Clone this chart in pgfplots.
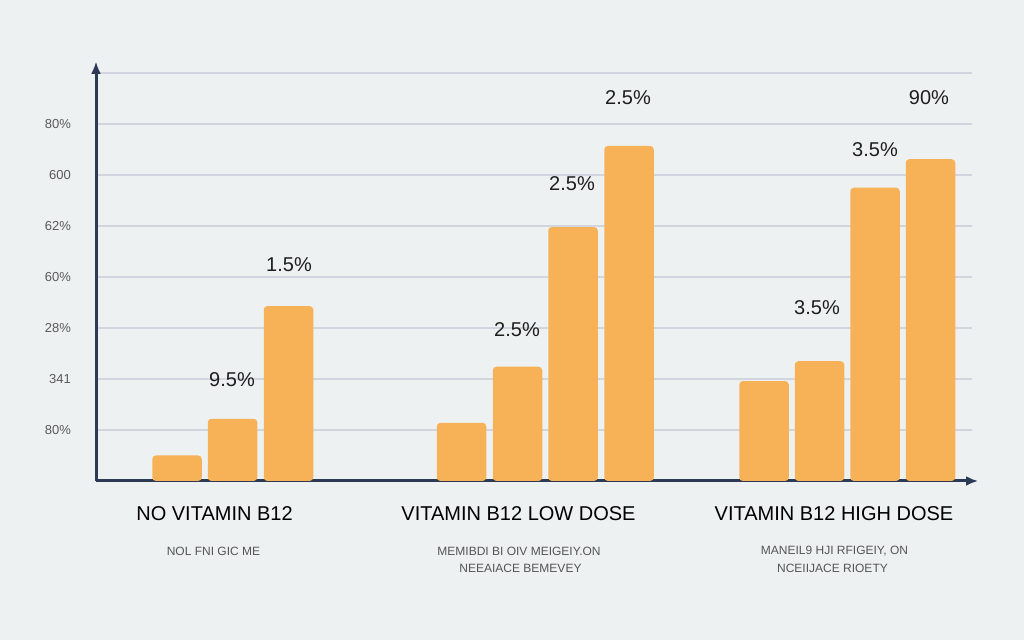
\documentclass[border=0pt]{standalone}
\usepackage{pgfplots}
\pgfplotsset{compat=1.18}
\usepackage{fontspec}
\setmainfont{Liberation Sans}
\usetikzlibrary{arrows.meta}
\definecolor{bgcol}{HTML}{EDF1F2}
\definecolor{barcol}{HTML}{F7B257}
\definecolor{gridcol}{HTML}{D3D5DE}
\definecolor{axiscol}{HTML}{2C3A55}
\definecolor{tickcol}{HTML}{5A5A5A}
\definecolor{valcol}{HTML}{1E1E1E}
\definecolor{subcol}{HTML}{555555}
\begin{document}
\begin{tikzpicture}
\fill[bgcol] (0,0) rectangle (512pt,320pt);
\path[use as bounding box] (0,0) rectangle (512pt,320pt);
\begin{axis}[
  at={(48pt,79.5pt)}, anchor=south west,
  x=0.5pt, y=25.5pt,
  xmin=96, xmax=972, ymin=0, ymax=8.22,
  axis x line=bottom, axis y line=left,
  axis line style={line width=1.5pt, color=axiscol, -{Latex[length=6pt,width=5pt]}},
  x axis line style={shorten >=-3pt},
  xtick=\empty,
  ytick={1,2,3,4,5,6,7,8},
  yticklabels={80\%,341,28\%,60\%,62\%,600,80\%,},
  major tick length=0pt,
  yticklabel style={font=\fontsize{6.5}{7}\selectfont, text=tickcol, anchor=east, xshift=-9pt},
  ymajorgrids=true,
  grid style={gridcol, line width=0.75pt},
  clip=false,
]
\addplot[ybar, bar width=49.5, bar shift=0pt, fill=barcol, draw=none, rounded corners=1.8pt]
coordinates {
  (177,0.50) (232.5,1.22) (288.5,3.43)
  (461.5,1.14) (517.5,2.24) (573,4.98) (629,6.57)
  (764,1.96) (819.5,2.35) (875,5.75) (930.5,6.31)
};
\begin{scope}[every node/.style={font=\fontsize{10}{12}\selectfont, text=valcol}]
\node at (axis cs:232,1.98) {9.5\%};
\node at (axis cs:289,4.24) {1.5\%};
\node at (axis cs:517,2.96) {2.5\%};
\node at (axis cs:572,5.84) {2.5\%};
\node at (axis cs:628,7.51) {2.5\%};
\node at (axis cs:817,3.39) {3.5\%};
\node at (axis cs:875,6.49) {3.5\%};
\node at (axis cs:929,7.51) {90\%};
\end{scope}
\begin{scope}[every node/.style={font=\fontsize{10}{12}\selectfont, text=black}]
\node at (axis cs:214.5,-0.64) {NO VITAMIN B12};
\node at (axis cs:518.5,-0.64) {VITAMIN B12 LOW DOSE};
\node at (axis cs:834,-0.64) {VITAMIN B12 HIGH DOSE};
\end{scope}
\begin{scope}[every node/.style={font=\fontsize{6}{7}\selectfont, text=subcol}]
\node at (axis cs:213.5,-1.38) {NOL FNI GIC ME};
\node at (axis cs:519,-1.38) {MEMIBDI BI OIV MEIGEIY.ON};
\node at (axis cs:520.5,-1.716) {NEEAIACE BEMEVEY};
\node at (axis cs:834.5,-1.38) {MANEIL9 HJI RFIGEIY, ON};
\node at (axis cs:832.5,-1.716) {NCEIIJACE RIOETY};
\end{scope}
\end{axis}
\end{tikzpicture}
\end{document}
